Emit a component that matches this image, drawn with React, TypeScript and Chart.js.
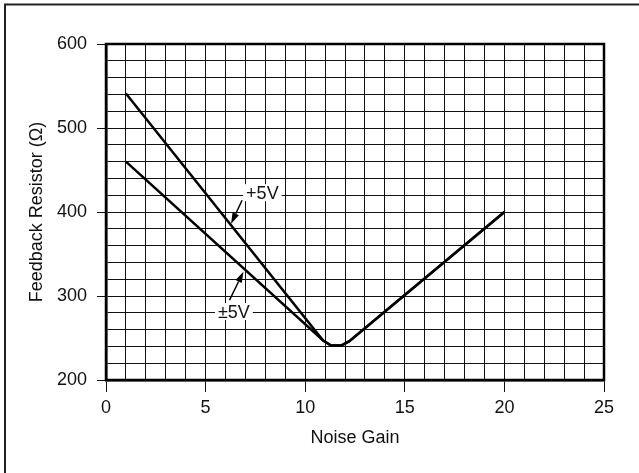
import React, { useEffect, useRef } from "react";
import { Chart, registerables } from "chart.js";

Chart.register(...registerables);

// Data
const plus5X = [1, 10.9, 11.3, 11.8, 12.2, 20];
const plus5Y = [541, 247, 241, 241, 246, 400];
const dual5X = [1, 10.9, 11.3, 11.8, 12.2, 20];
const dual5Y = [460, 247, 241, 241, 246, 400];

const xMin = 0;
const xMax = 25;
const yMin = 200;
const yMax = 600;
const xLabelStep = 5;
const yLabelStep = 100;

// Curve annotations (data units)
const annotations = [
  { text: "+5V", labelX: 7.85, labelY: 423, tailX: 6.83, tailY: 414, tipX: 6.28, tipY: 386 },
  { text: "\u00B15V", labelX: 6.42, labelY: 281.5, tailX: 6.2, tailY: 295, tipX: 6.9, tipY: 329 },
];

const FONT = "'Liberation Sans', Arial, Helvetica, sans-serif";
const FS = 18;

const toPoints = (xs: number[], ys: number[]) => xs.map((x, i) => ({ x, y: ys[i] }));

const framePlugin = {
  id: "frame",
  beforeDraw(chart: any) {
    const ctx = chart.ctx;
    ctx.save();
    ctx.fillStyle = "#fff";
    ctx.fillRect(0, 0, chart.width, chart.height);
    ctx.strokeStyle = "#222";
    ctx.lineWidth = 2;
    ctx.strokeRect(5, 4.5, chart.width + 20, chart.height + 20);
    ctx.restore();
  },
  afterDatasetsDraw(chart: any) {
    const ctx = chart.ctx;
    const xs = chart.scales.x;
    const ys = chart.scales.y;
    const a = chart.chartArea;
    ctx.save();
    ctx.strokeStyle = "#000";
    ctx.lineWidth = 2.5;
    ctx.strokeRect(a.left, a.top, a.right - a.left, a.bottom - a.top);

    ctx.font = `${FS}px ${FONT}`;
    ctx.textAlign = "center";
    ctx.textBaseline = "middle";
    for (const an of annotations) {
      const lx = xs.getPixelForValue(an.labelX);
      const ly = ys.getPixelForValue(an.labelY);
      const w = ctx.measureText(an.text).width + 6;
      ctx.fillStyle = "#fff";
      ctx.fillRect(lx - w / 2, ly - 8.5, w, 17);
      ctx.fillStyle = "#111";
      ctx.fillText(an.text, lx, ly + 1);

      const tx = xs.getPixelForValue(an.tailX);
      const ty = ys.getPixelForValue(an.tailY);
      const px = xs.getPixelForValue(an.tipX);
      const py = ys.getPixelForValue(an.tipY);
      const ang = Math.atan2(py - ty, px - tx);
      const headLen = 11;
      const headW = 3.5;
      const bx = px - headLen * Math.cos(ang);
      const by = py - headLen * Math.sin(ang);
      ctx.strokeStyle = "#000";
      ctx.lineWidth = 1.5;
      ctx.beginPath();
      ctx.moveTo(tx, ty);
      ctx.lineTo(bx, by);
      ctx.stroke();
      ctx.fillStyle = "#000";
      ctx.beginPath();
      ctx.moveTo(px, py);
      ctx.lineTo(bx + headW * Math.sin(ang), by - headW * Math.cos(ang));
      ctx.lineTo(bx - headW * Math.sin(ang), by + headW * Math.cos(ang));
      ctx.closePath();
      ctx.fill();
    }
    ctx.restore();
  },
};

export default function App() {
  const ref = useRef<HTMLCanvasElement>(null);
  useEffect(() => {
    if (!ref.current) return;
    const chart = new Chart(ref.current, {
      type: "line",
      data: {
        datasets: [
          {
            label: "+5V",
            data: toPoints(plus5X, plus5Y),
            borderColor: "#000",
            borderWidth: 2.5,
            pointRadius: 0,
            tension: 0,
            fill: false,
          },
          {
            label: "\u00B15V",
            data: toPoints(dual5X, dual5Y),
            borderColor: "#000",
            borderWidth: 2.5,
            pointRadius: 0,
            tension: 0,
            fill: false,
          },
        ],
      },
      options: {
        animation: false,
        responsive: false,
        layout: { padding: { top: 44, right: 35, bottom: 0, left: 0 } },
        plugins: { legend: { display: false }, tooltip: { enabled: false } },
        scales: {
          x: {
            type: "linear",
            min: xMin,
            max: xMax,
            afterFit: (s: any) => {
              s.height = 93;
            },
            ticks: {
              stepSize: 1,
              autoSkip: false,
              maxRotation: 0,
              padding: 5,
              color: "#111",
              font: { family: FONT, size: FS },
              callback: (v: any) => (Number(v) % xLabelStep === 0 ? String(v) : ""),
            },
            grid: {
              color: "#111",
              lineWidth: 1,
              tickLength: 12,
              tickColor: (c: any) => (c.tick && c.tick.value % xLabelStep === 0 ? "#111" : "rgba(0,0,0,0)"),
            },
            border: { display: true, color: "#000", width: 2.5 },
            title: {
              display: true,
              text: "Noise Gain",
              color: "#111",
              font: { family: FONT, size: FS },
              padding: { top: 0, bottom: 24 },
            },
          },
          y: {
            type: "linear",
            min: yMin,
            max: yMax,
            afterFit: (s: any) => {
              s.width = 106;
            },
            ticks: {
              stepSize: 20,
              autoSkip: false,
              padding: 10,
              color: "#111",
              font: { family: FONT, size: FS },
              callback: (v: any) => (Number(v) % yLabelStep === 0 ? String(v) : ""),
            },
            grid: {
              color: "#111",
              lineWidth: 1,
              tickLength: 9,
              tickColor: (c: any) => (c.tick && c.tick.value % yLabelStep === 0 ? "#111" : "rgba(0,0,0,0)"),
            },
            border: { display: true, color: "#000", width: 2.5 },
            title: {
              display: true,
              text: "Feedback Resistor (\u03A9)",
              color: "#111",
              font: { family: FONT, size: FS },
              padding: { top: 26, bottom: 0 },
            },
          },
        },
      },
      plugins: [framePlugin],
    });
    return () => chart.destroy();
  }, []);
  return (
    <div style={{ position: "fixed", left: 0, top: 0, width: 639, height: 473, background: "#fff" }}>
      <canvas ref={ref} width={639} height={473} style={{ display: "block" }} />
    </div>
  );
}
